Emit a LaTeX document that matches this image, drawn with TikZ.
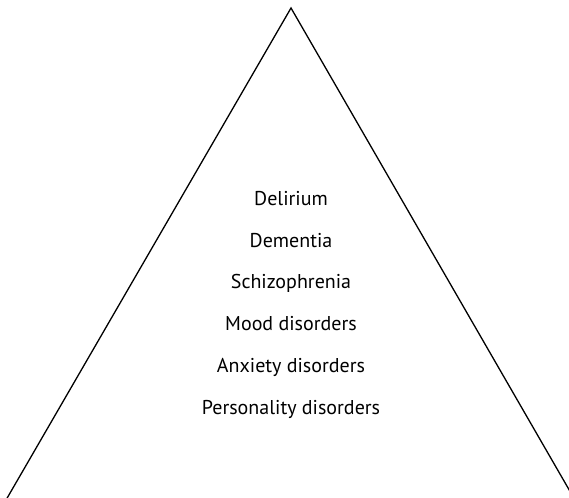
\documentclass[tikz,border=0pt]{standalone}
\usepackage{fontspec}
\setmainfont{PT Sans}
\begin{document}
\begin{tikzpicture}[x=1pt,y=-1pt,
  edge/.style={draw=black,line width=1.3pt},
  label/.style={font=\fontsize{20}{24}\selectfont,anchor=base,inner sep=0pt,text=black}]
  \useasboundingbox (0,0) rectangle (569,497);
  \clip (0,0) rectangle (569,497);
  % triangle outline: apex and the two ends of its sides
  \coordinate (top) at (291,8);
  \coordinate (left) at (6,500);
  \coordinate (right) at (575,500);
  \draw[edge,line join=miter] (left) -- (top) -- (right);
  % list of disorders
  \node[label] (d1) at (291,205) {Delirium};
  \node[label] (d2) at (291,247) {Dementia};
  \node[label] (d3) at (291,288) {Schizophrenia};
  \node[label] (d4) at (291,330) {Mood disorders};
  \node[label] (d5) at (291,372) {Anxiety disorders};
  \node[label] (d6) at (291,414) {Personality disorders};
\end{tikzpicture}
\end{document}
